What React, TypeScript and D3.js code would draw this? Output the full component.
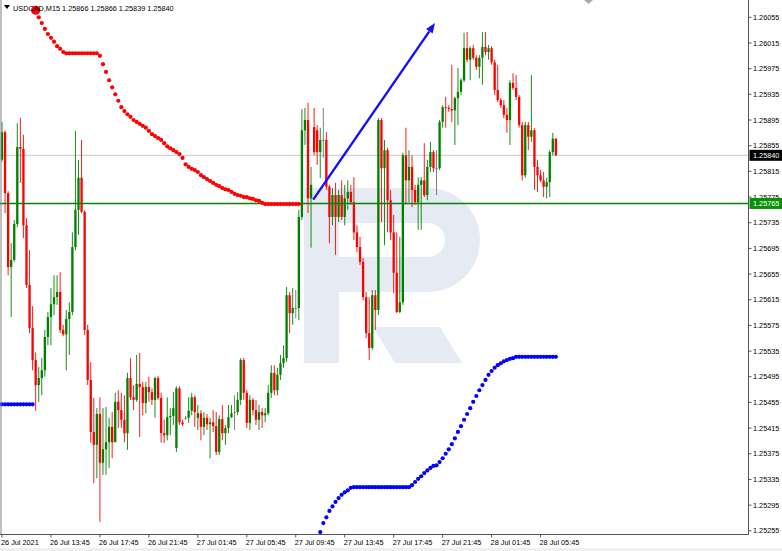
import React from 'react';
import * as d3 from 'd3';

const W = 782;
const H = 551;

const symbolTitle = 'USDCAD,M15';
const timeLabels = ['26 Jul 2021', '26 Jul 13:45', '26 Jul 17:45', '26 Jul 21:45', '27 Jul 01:45', '27 Jul 05:45', '27 Jul 09:45', '27 Jul 13:45', '27 Jul 17:45', '27 Jul 21:45', '28 Jul 01:45', '28 Jul 05:45'];
const barsPerTimeLabel = 16;
const priceTickTop = 1.26055;
const priceTickStep = 0.0004;
const priceTickCount = 21;
const horizontalLevel = 1.25765;

const opens = [
  1.25833, 1.25876, 1.25781, 1.25666, 1.25677, 1.25733, 1.25853, 1.25850, 1.25731, 1.25638,
  1.25571, 1.25521, 1.25482, 1.25493, 1.25505, 1.25557, 1.25588, 1.25608, 1.25619, 1.25627,
  1.25568, 1.25561, 1.25585, 1.25596, 1.25697, 1.25755, 1.25805, 1.25752, 1.25568, 1.25490,
  1.25409, 1.25389, 1.25437, 1.25361, 1.25382, 1.25393, 1.25417, 1.25393, 1.25456, 1.25443,
  1.25428, 1.25407, 1.25493, 1.25463, 1.25459, 1.25484, 1.25479, 1.25454, 1.25479, 1.25471,
  1.25459, 1.25493, 1.25462, 1.25407, 1.25404, 1.25432, 1.25434, 1.25384, 1.25477, 1.25424,
  1.25431, 1.25431, 1.25442, 1.25463, 1.25431, 1.25438, 1.25417, 1.25431, 1.25421, 1.25424,
  1.25418, 1.25378, 1.25429, 1.25407, 1.25415, 1.25432, 1.25440, 1.25440, 1.25459, 1.25521,
  1.25470, 1.25423, 1.25459, 1.25443, 1.25428, 1.25440, 1.25435, 1.25438, 1.25470, 1.25501,
  1.25474, 1.25498, 1.25516, 1.25524, 1.25622, 1.25594, 1.25602, 1.25602, 1.25744, 1.25879,
  1.25895, 1.25773, 1.25884, 1.25879, 1.25845, 1.25864, 1.25864, 1.25791, 1.25744, 1.25778,
  1.25744, 1.25778, 1.25744, 1.25773, 1.25783, 1.25767, 1.25720, 1.25697, 1.25674, 1.25619,
  1.25563, 1.25540, 1.25622, 1.25599, 1.25895, 1.25820, 1.25848, 1.25770, 1.25720, 1.25657,
  1.25596, 1.25611, 1.25840, 1.25801, 1.25822, 1.25786, 1.25767, 1.25794, 1.25801, 1.25778,
  1.25822, 1.25845, 1.25820, 1.25820, 1.25892, 1.25915, 1.25914, 1.25912, 1.25910, 1.25929,
  1.25939, 1.25957, 1.26007, 1.25989, 1.26007, 1.25992, 1.25978, 1.25992, 1.26009, 1.26001,
  1.26007, 1.25985, 1.25942, 1.25926, 1.25918, 1.25903, 1.25895, 1.25953, 1.25945, 1.25931,
  1.25887, 1.25809, 1.25887, 1.25869, 1.25879, 1.25822, 1.25809, 1.25801, 1.25791, 1.25798,
  1.25845, 1.25866,
];

const highs = [
  1.25892, 1.25879, 1.25784, 1.25703, 1.25739, 1.25890, 1.25898, 1.25872, 1.25742, 1.25692,
  1.25605, 1.25533, 1.25510, 1.25524, 1.25568, 1.25596, 1.25633, 1.25653, 1.25653, 1.25658,
  1.25576, 1.25599, 1.25611, 1.25720, 1.25878, 1.25833, 1.25864, 1.25755, 1.25576, 1.25518,
  1.25462, 1.25446, 1.25463, 1.25446, 1.25448, 1.25431, 1.25440, 1.25470, 1.25474, 1.25470,
  1.25466, 1.25501, 1.25524, 1.25482, 1.25529, 1.25532, 1.25487, 1.25487, 1.25495, 1.25477,
  1.25495, 1.25496, 1.25470, 1.25428, 1.25463, 1.25446, 1.25471, 1.25480, 1.25480, 1.25428,
  1.25434, 1.25463, 1.25470, 1.25466, 1.25451, 1.25443, 1.25440, 1.25437, 1.25431, 1.25443,
  1.25440, 1.25435, 1.25451, 1.25420, 1.25451, 1.25451, 1.25466, 1.25471, 1.25524, 1.25524,
  1.25474, 1.25466, 1.25462, 1.25459, 1.25451, 1.25446, 1.25446, 1.25482, 1.25513, 1.25513,
  1.25509, 1.25529, 1.25544, 1.25635, 1.25627, 1.25633, 1.25630, 1.25755, 1.25912, 1.25914,
  1.25922, 1.25822, 1.25914, 1.25887, 1.25883, 1.25914, 1.25876, 1.25794, 1.25789, 1.25797,
  1.25786, 1.25801, 1.25794, 1.25801, 1.25794, 1.25806, 1.25731, 1.25713, 1.25680, 1.25627,
  1.25619, 1.25630, 1.25630, 1.25898, 1.25898, 1.25864, 1.25852, 1.25786, 1.25747, 1.25720,
  1.25713, 1.25844, 1.25883, 1.25848, 1.25840, 1.25794, 1.25806, 1.25806, 1.25859, 1.25833,
  1.25861, 1.25848, 1.25848, 1.25895, 1.25918, 1.25931, 1.25918, 1.25981, 1.25931, 1.25976,
  1.25960, 1.26031, 1.26032, 1.26010, 1.26012, 1.25996, 1.25996, 1.26032, 1.26032, 1.26012,
  1.26010, 1.25989, 1.25981, 1.25929, 1.25926, 1.25914, 1.25957, 1.25968, 1.25965, 1.25934,
  1.25892, 1.25892, 1.25892, 1.25965, 1.25882, 1.25833, 1.25817, 1.25814, 1.25805, 1.25848,
  1.25875, 1.25866,
];

const lows = [
  1.25830, 1.25750, 1.25653, 1.25588, 1.25674, 1.25728, 1.25797, 1.25711, 1.25633, 1.25563,
  1.25505, 1.25442, 1.25456, 1.25466, 1.25495, 1.25544, 1.25544, 1.25591, 1.25607, 1.25563,
  1.25558, 1.25505, 1.25529, 1.25591, 1.25692, 1.25716, 1.25750, 1.25560, 1.25482, 1.25392,
  1.25329, 1.25337, 1.25269, 1.25342, 1.25342, 1.25353, 1.25368, 1.25393, 1.25415, 1.25415,
  1.25393, 1.25381, 1.25459, 1.25443, 1.25456, 1.25401, 1.25435, 1.25438, 1.25456, 1.25451,
  1.25431, 1.25459, 1.25392, 1.25392, 1.25396, 1.25404, 1.25420, 1.25378, 1.25420, 1.25418,
  1.25428, 1.25423, 1.25435, 1.25417, 1.25412, 1.25396, 1.25404, 1.25412, 1.25368, 1.25409,
  1.25373, 1.25373, 1.25396, 1.25389, 1.25407, 1.25431, 1.25412, 1.25435, 1.25451, 1.25459,
  1.25415, 1.25412, 1.25435, 1.25420, 1.25412, 1.25415, 1.25424, 1.25435, 1.25462, 1.25466,
  1.25466, 1.25490, 1.25509, 1.25518, 1.25563, 1.25576, 1.25586, 1.25583, 1.25739, 1.25856,
  1.25750, 1.25696, 1.25840, 1.25825, 1.25805, 1.25836, 1.25786, 1.25703, 1.25731, 1.25685,
  1.25736, 1.25739, 1.25731, 1.25755, 1.25763, 1.25708, 1.25689, 1.25669, 1.25614, 1.25555,
  1.25521, 1.25537, 1.25568, 1.25591, 1.25736, 1.25700, 1.25720, 1.25708, 1.25625, 1.25594,
  1.25594, 1.25607, 1.25763, 1.25767, 1.25759, 1.25763, 1.25724, 1.25724, 1.25775, 1.25770,
  1.25814, 1.25814, 1.25778, 1.25817, 1.25883, 1.25883, 1.25908, 1.25892, 1.25856, 1.25887,
  1.25934, 1.25954, 1.25985, 1.25957, 1.25989, 1.25973, 1.25960, 1.25950, 1.25996, 1.25989,
  1.25981, 1.25934, 1.25923, 1.25914, 1.25898, 1.25875, 1.25856, 1.25942, 1.25926, 1.25883,
  1.25801, 1.25805, 1.25848, 1.25861, 1.25786, 1.25783, 1.25798, 1.25775, 1.25773, 1.25775,
  1.25840, 1.25839,
];

const closes = [
  1.25876, 1.25781, 1.25666, 1.25677, 1.25733, 1.25853, 1.25850, 1.25731, 1.25638, 1.25571,
  1.25521, 1.25482, 1.25493, 1.25505, 1.25557, 1.25588, 1.25608, 1.25619, 1.25627, 1.25568,
  1.25561, 1.25585, 1.25596, 1.25697, 1.25755, 1.25805, 1.25752, 1.25568, 1.25490, 1.25409,
  1.25389, 1.25437, 1.25361, 1.25382, 1.25393, 1.25417, 1.25393, 1.25456, 1.25443, 1.25428,
  1.25407, 1.25493, 1.25463, 1.25459, 1.25484, 1.25479, 1.25454, 1.25479, 1.25471, 1.25459,
  1.25493, 1.25462, 1.25407, 1.25404, 1.25432, 1.25434, 1.25446, 1.25477, 1.25424, 1.25421,
  1.25431, 1.25442, 1.25463, 1.25440, 1.25438, 1.25417, 1.25431, 1.25421, 1.25424, 1.25418,
  1.25378, 1.25429, 1.25407, 1.25415, 1.25432, 1.25438, 1.25440, 1.25459, 1.25521, 1.25470,
  1.25423, 1.25459, 1.25443, 1.25428, 1.25440, 1.25435, 1.25438, 1.25470, 1.25501, 1.25474,
  1.25498, 1.25516, 1.25524, 1.25622, 1.25594, 1.25602, 1.25602, 1.25744, 1.25879, 1.25895,
  1.25773, 1.25794, 1.25845, 1.25845, 1.25864, 1.25864, 1.25791, 1.25744, 1.25778, 1.25744,
  1.25778, 1.25744, 1.25773, 1.25783, 1.25767, 1.25720, 1.25697, 1.25674, 1.25619, 1.25563,
  1.25540, 1.25622, 1.25599, 1.25895, 1.25820, 1.25848, 1.25770, 1.25720, 1.25657, 1.25596,
  1.25611, 1.25840, 1.25801, 1.25822, 1.25786, 1.25767, 1.25794, 1.25801, 1.25778, 1.25822,
  1.25845, 1.25820, 1.25820, 1.25892, 1.25915, 1.25914, 1.25912, 1.25910, 1.25929, 1.25939,
  1.25957, 1.26007, 1.25989, 1.26007, 1.25992, 1.25978, 1.25992, 1.26009, 1.26001, 1.26007,
  1.25985, 1.25942, 1.25926, 1.25918, 1.25903, 1.25895, 1.25953, 1.25945, 1.25931, 1.25887,
  1.25809, 1.25887, 1.25869, 1.25879, 1.25822, 1.25809, 1.25801, 1.25791, 1.25798, 1.25845,
  1.25866, 1.25840,
];

// Parabolic SAR dots
const sarLowStartA = 0;
const sarLowA = [1.25452, 1.25452, 1.25452, 1.25452, 1.25452, 1.25452, 1.25452, 1.25452, 1.25452, 1.25452, 1.25452];
const sarHighStart = 11;
const sarHigh = [
  1.26066, 1.26055, 1.26046, 1.26037, 1.26029, 1.26023, 1.26017, 1.26010, 1.26006, 1.26001,
  1.25999, 1.25999, 1.25999, 1.25999, 1.25999, 1.25999, 1.25999, 1.25999, 1.25999, 1.25999, 1.25999,
  1.25995, 1.25982, 1.25970, 1.25957, 1.25946, 1.25935, 1.25925, 1.25915, 1.25909, 1.25904,
  1.25900, 1.25895, 1.25892, 1.25889, 1.25886, 1.25883, 1.25878, 1.25873, 1.25870, 1.25867,
  1.25864, 1.25859, 1.25854, 1.25851, 1.25848, 1.25845, 1.25842, 1.25836, 1.25826, 1.25822,
  1.25819, 1.25817, 1.25814, 1.25809, 1.25806, 1.25803, 1.25800, 1.25797, 1.25794, 1.25792,
  1.25789, 1.25787, 1.25786, 1.25783, 1.25780, 1.25778, 1.25777, 1.25775, 1.25775, 1.25773,
  1.25772, 1.25770, 1.25769, 1.25766,
  1.25764, 1.25764, 1.25764, 1.25764, 1.25764, 1.25764, 1.25764, 1.25764, 1.25764, 1.25764, 1.25764, 1.25764,
];
const sarLowStartB = 104;
const sarLowB = [
  1.25253, 1.25267, 1.25276, 1.25286, 1.25293, 1.25300, 1.25306, 1.25311, 1.25315, 1.25318, 1.25322,
  1.25323, 1.25323, 1.25323, 1.25323, 1.25323, 1.25323, 1.25323, 1.25323, 1.25323, 1.25323,
  1.25323, 1.25323, 1.25323, 1.25323, 1.25323, 1.25323, 1.25323, 1.25323, 1.25323,
  1.25326, 1.25331, 1.25336, 1.25340, 1.25345, 1.25349, 1.25353, 1.25356, 1.25357, 1.25362,
  1.25368, 1.25375, 1.25382, 1.25390, 1.25399, 1.25409, 1.25418, 1.25428, 1.25437, 1.25446,
  1.25456, 1.25465, 1.25474, 1.25482, 1.25490, 1.25498, 1.25504, 1.25509, 1.25513, 1.25516,
  1.25519, 1.25521, 1.25523, 1.25524,
  1.25526, 1.25526, 1.25526, 1.25526, 1.25526, 1.25526, 1.25526, 1.25526, 1.25526, 1.25526, 1.25526, 1.25526, 1.25526, 1.25526,
];

// trend arrow annotation (bar index, price)
const arrowFrom = { bar: 101.7, price: 1.25771 };
const arrowTo = { bar: 141.5, price: 1.26046 };

const FONT = "'Liberation Sans', Arial, sans-serif";

export default function App() {
  const plotRight = 748.5;
  const plotBottom = 534.5;
  const x = d3.scaleLinear().domain([0, 100]).range([2, 308]);
  const y = d3.scaleLinear().domain([1.2525, 1.26082]).range([534, 0]);

  const n = closes.length;
  const bars = d3.range(n).map((i) => ({ i, o: opens[i], h: highs[i], l: lows[i], c: closes[i] }));
  const priceTicks = d3.range(priceTickCount).map((k) => +(priceTickTop - k * priceTickStep).toFixed(5));
  const fmt = d3.format('.5f');

  const dotsLow = [
    ...sarLowA.map((v, k) => ({ i: sarLowStartA + k, v })),
    ...sarLowB.map((v, k) => ({ i: sarLowStartB + k, v })),
  ];
  const dotsHigh = sarHigh.map((v, k) => ({ i: sarHighStart + k, v }));

  const last = bars[n - 1];
  const title = `${symbolTitle}  ${fmt(last.o)} ${fmt(last.h)} ${fmt(last.l)} ${fmt(last.c)}`;

  const ax1 = x(arrowFrom.bar), ay1 = y(arrowFrom.price);
  const ax2 = x(arrowTo.bar), ay2 = y(arrowTo.price);
  const ang = Math.atan2(ay2 - ay1, ax2 - ax1);
  const headLen = 10, headW = 4;
  const bx = ax2 - headLen * Math.cos(ang), by = ay2 - headLen * Math.sin(ang);
  const head = [
    [ax2, ay2],
    [bx + headW * Math.sin(ang), by - headW * Math.cos(ang)],
    [bx - headW * Math.sin(ang), by + headW * Math.cos(ang)],
  ];

  const wm = '#e6ebf3';
  const boxTop = y(horizontalLevel) - 5.5;

  return (
    <svg width={W} height={H} style={{ position: 'absolute', left: 0, top: 0, background: '#fff' }} fontFamily={FONT}>
      <defs>
        <clipPath id="plotClip">
          <rect x={0} y={0} width={plotRight} height={plotBottom} />
        </clipPath>
        <clipPath id="aboveLevelBox">
          <rect x={plotRight} y={0} width={W - plotRight} height={boxTop} />
          <rect x={plotRight} y={boxTop + 11} width={W - plotRight} height={H} />
        </clipPath>
      </defs>
      <rect x={0} y={0} width={W} height={H} fill="#fff" />
      {/* watermark logo */}
      <g fill={wm}>
        <path fillRule="evenodd" d="M304,188 H428 A52,52 0 0 1 428,292 H339 V363 H304 Z M339,223 H428 A17,17 0 0 1 428,257 H339 Z" />
        <path d="M373,327 H440 L462,363 H395 Z" />
      </g>
      <g clipPath="url(#plotClip)">
        <line x1={0} x2={plotRight} y1={y(last.c)} y2={y(last.c)} stroke="#c8c8c8" strokeWidth={1} />
        {bars.map((b) => {
          const cx = x(b.i);
          const col = b.c > b.o ? '#008000' : b.c < b.o ? '#ff0000' : '#707070';
          const top = Math.min(y(b.o), y(b.c));
          const hgt = Math.max(Math.abs(y(b.o) - y(b.c)), 0.9);
          return (
            <g key={b.i}>
              <line x1={cx} x2={cx} y1={y(b.h)} y2={y(b.l)} stroke={col} strokeWidth={0.9} />
              <rect x={cx - 1.15} y={top} width={2.3} height={hgt} fill={col} />
            </g>
          );
        })}
        <line x1={0} x2={plotRight + 2} y1={y(horizontalLevel)} y2={y(horizontalLevel)} stroke="#0a800a" strokeWidth={1.6} />
        {dotsHigh.map((d, k) => (
          <circle key={'h' + d.i} cx={x(d.i)} cy={y(d.v)} r={k === 0 ? 4.6 : 2.1} fill="#ff0000" />
        ))}
        {dotsLow.map((d) => (
          <circle key={'l' + d.i} cx={x(d.i)} cy={y(d.v)} r={2.1} fill="#0000ff" />
        ))}
        <line x1={ax1} y1={ay1} x2={bx} y2={by} stroke="#1010ff" strokeWidth={2.4} />
        <polygon points={head.map((p) => p.join(',')).join(' ')} fill="#1010ff" />
      </g>
      {/* frame */}
      <line x1={1} x2={1} y1={0} y2={plotBottom} stroke="#808080" strokeWidth={1} />
      <line x1={plotRight} x2={plotRight} y1={0} y2={plotBottom} stroke="#555" strokeWidth={1} />
      <line x1={0} x2={plotRight} y1={plotBottom} y2={plotBottom} stroke="#555" strokeWidth={1} />
      <polygon points="584,0 593,0 588.5,4" fill="#a8a8a8" />
      {/* price axis */}
      {priceTicks.map((v) => (
        <g key={v}>
          <line x1={plotRight} x2={plotRight + 3} y1={y(v)} y2={y(v)} stroke="#555" strokeWidth={1} />
          <text x={753} y={y(v) + 2.6} fontSize={7.3} fill="#000" clipPath="url(#aboveLevelBox)">{fmt(v)}</text>
        </g>
      ))}
      <rect x={749.5} y={y(last.c) - 5.5} width={33} height={11} fill="#000" />
      <text x={753} y={y(last.c) + 2.6} fontSize={7.3} fill="#fff">{fmt(last.c)}</text>
      <rect x={749.5} y={boxTop} width={33} height={11} fill="#0a8f0a" />
      <text x={753} y={y(horizontalLevel) + 2.6} fontSize={7.3} fill="#fff">{fmt(horizontalLevel)}</text>
      {/* time axis */}
      {timeLabels.map((t, k) => {
        const tx = x(k * barsPerTimeLabel);
        return (
          <g key={t}>
            <line x1={tx} x2={tx} y1={plotBottom} y2={plotBottom + 3} stroke="#555" strokeWidth={1} />
            <text x={tx - 1} y={545} fontSize={7.3} fill="#000">{t}</text>
          </g>
        );
      })}
      {/* title */}
      <polygon points="4,5 10,5 7,9" fill="#000" />
      <text x={13} y={10.5} fontSize={7.3} fill="#000">{title}</text>
      <rect x={0} y={548} width={W} height={3} fill="#f0f0f0" />
    </svg>
  );
}
